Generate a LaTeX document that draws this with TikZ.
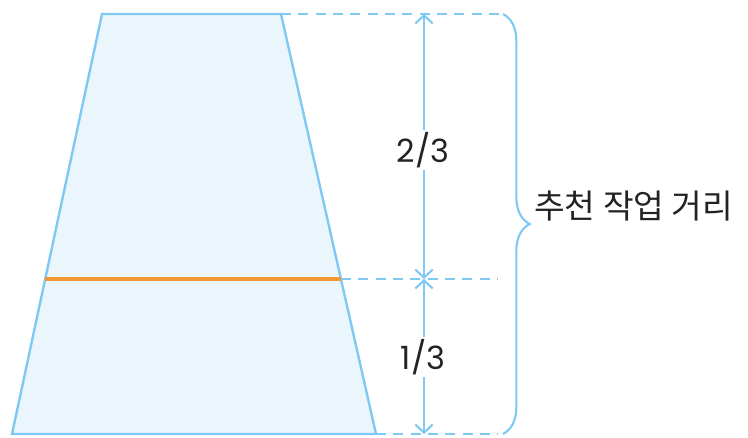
\documentclass[tikz,border=0pt]{standalone}
\usepackage{fontspec}
\setmainfont{Poppins}
\newfontfamily\kofont{Noto Sans CJK KR}
\usetikzlibrary{arrows.meta,decorations.pathreplacing}
\definecolor{lineblue}{RGB}{128,201,242}
\definecolor{fillblue}{RGB}{234,245,252}
\definecolor{midorange}{RGB}{242,152,48}
\definecolor{txt}{RGB}{35,35,35}

\begin{document}
\begin{tikzpicture}[
  x=0.75pt,y=-0.75pt,
  trap/.style={draw=lineblue,fill=fillblue,line width=1.8pt,line join=miter},
  cut/.style={draw=midorange,line width=2.6pt},
  guide/.style={draw=lineblue,line width=1.6pt,dash pattern=on 7.5pt off 5.5pt},
  dim/.style={draw=lineblue,line width=1.6pt,{Straight Barb[length=6pt,width=13pt]}-{Straight Barb[length=6pt,width=13pt]}},
  num/.style={font=\fontsize{24}{28}\selectfont,text=txt,fill=white,inner sep=2pt},
  lab/.style={font=\kofont\fontsize{25}{30}\selectfont,text=txt,inner sep=0pt,anchor=west},
  brc/.style={draw=lineblue,line width=1.6pt,decorate,decoration={brace,amplitude=20pt}}
]
\useasboundingbox (0,0) rectangle (748,437);

% trapezoid corners
\coordinate (tl) at (102,14);
\coordinate (tr) at (281,14);
\coordinate (br) at (376,434);
\coordinate (bl) at (12,434);
\coordinate (ml) at (45,279);
\coordinate (mr) at (341,279);

% guide ends
\coordinate (gt) at (503,14);
\coordinate (gm) at (498,279);
\coordinate (gb) at (498,434);
\coordinate (at) at (424,14);
\coordinate (am) at (424,279);
\coordinate (ab) at (424,434);

\path[trap] (tl) -- (tr) -- (br) -- (bl) -- cycle;
\draw[cut] (ml) -- (mr);

\draw[guide] (tr) -- (gt);
\draw[guide] (mr) -- (gm);
\draw[guide] (br) -- (gb);

\draw[dim] (at) -- (am);
\draw[dim] (am) -- (ab);
\node[num] (upper) at (423,150) {2/3};
\node[num] (lower) at (423,357) {1/3};

\draw[brc] (503,14) -- (503,434);
\node[lab] (dist) at (534,206) {추천 작업 거리};
\end{tikzpicture}
\end{document}
